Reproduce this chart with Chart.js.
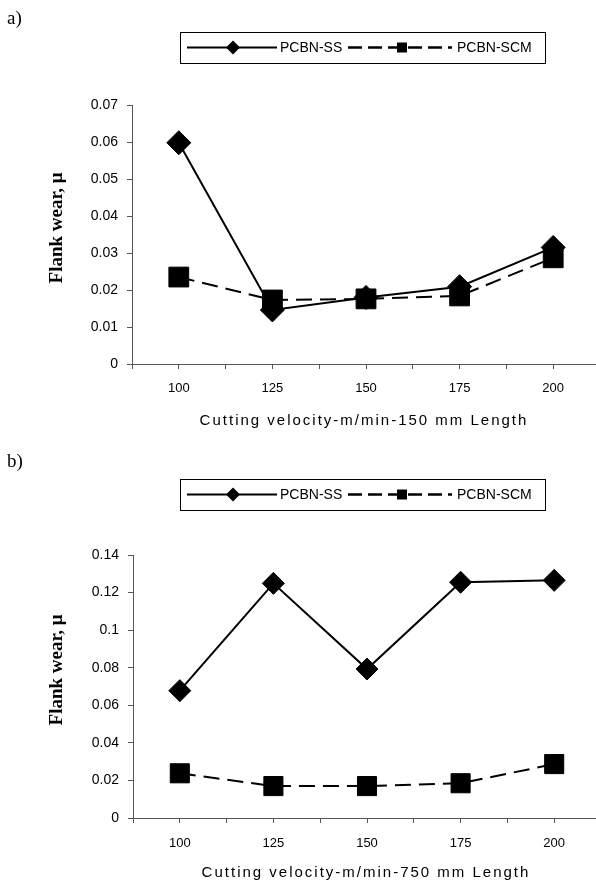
<!DOCTYPE html>
<html><head><meta charset="utf-8">
<script src="https://cdn.jsdelivr.net/npm/chart.js@4.4.0/dist/chart.umd.min.js"></script>
<style>
html,body{margin:0;padding:0;background:#fff;overflow:hidden;width:596px;height:885px;}
.box{position:absolute;left:0;width:620px;}
canvas{display:block;}
</style></head><body>
<div class="box" style="top:0;height:440px"><canvas id="ca" width="620" height="440"></canvas></div>
<div class="box" style="top:440px;height:445px"><canvas id="cb" width="620" height="445"></canvas></div>
<script>
// ---- data ----
const velocities = [100, 125, 150, 175, 200];
const ssA  = [0.0598, 0.0146, 0.0180, 0.0209, 0.0315];
const scmA = [0.0235, 0.0173, 0.0176, 0.0184, 0.0287];
const ssB  = [0.0678, 0.1249, 0.0793, 0.1255, 0.1265];
const scmB = [0.0238, 0.0170, 0.0170, 0.0185, 0.0287];
const seriesNames = ['PCBN-SS', 'PCBN-SCM'];
const panelLabels = ['a)', 'b)'];
const xTitles = ['Cutting velocity-m/min-150 mm Length', 'Cutting velocity-m/min-750 mm Length'];
const yTitle = 'Flank wear, \u03BC';
const yMaxes = [0.07, 0.14];
const ySteps = [0.01, 0.02];

const SANS = "'Liberation Sans', Arial, sans-serif";
const SERIF = "'Liberation Serif', 'Times New Roman', serif";
const AXIS = '#555';

function pts(vals) { return velocities.map((v, i) => ({x: v, y: vals[i]})); }

function drawMarker(ctx, style, x, y, r) {
  ctx.beginPath();
  if (style === 'rectRot') {
    ctx.moveTo(x - r, y); ctx.lineTo(x, y - r); ctx.lineTo(x + r, y); ctx.lineTo(x, y + r);
  } else {
    ctx.rect(x - r, y - r, 2 * r, 2 * r);
  }
  ctx.closePath(); ctx.fill();
}

function decor(cfg) {
  return {
    id: 'decor',
    afterDraw(chart) {
      const ctx = chart.ctx;
      const ds = chart.data.datasets;
      ctx.save();
      ctx.fillStyle = '#000';
      ctx.font = '19px ' + SERIF;
      ctx.textBaseline = 'top'; ctx.textAlign = 'left';
      ctx.fillText(cfg.panel, 7, cfg.panelTop);
      const lt = cfg.legendTop, lh = 31, my = lt + lh / 2;
      ctx.strokeStyle = '#000'; ctx.lineWidth = 1;
      ctx.strokeRect(180.5, lt + 0.5, 365, lh);
      ctx.font = '14px ' + SANS; ctx.textBaseline = 'middle';
      ctx.lineWidth = 2; ctx.setLineDash(ds[0].borderDash || []);
      ctx.beginPath(); ctx.moveTo(187, my); ctx.lineTo(277, my); ctx.stroke();
      drawMarker(ctx, ds[0].pointStyle, 233, my, 7);
      ctx.fillText(ds[0].label, 280, my + 1);
      ctx.lineWidth = 2.5;
      ctx.setLineDash([14, 6]);
      ctx.beginPath(); ctx.moveTo(348, my); ctx.lineTo(452, my); ctx.stroke();
      ctx.setLineDash([]);
      drawMarker(ctx, ds[1].pointStyle, 402, my, 5);
      ctx.fillText(ds[1].label, 457, my + 1);
      ctx.save();
      ctx.translate(57, cfg.yTitleY); ctx.rotate(-Math.PI / 2);
      ctx.font = 'bold 19px ' + SERIF; ctx.textAlign = 'center'; ctx.textBaseline = 'middle';
      ctx.fillText(yTitle, 0, 0);
      ctx.restore();
      ctx.font = '15px ' + SANS; ctx.textAlign = 'center'; ctx.textBaseline = 'middle';
      try { ctx.letterSpacing = '2px'; } catch (e) {}
      ctx.fillText(cfg.xTitle, cfg.xTitleX, cfg.xTitleY);
      try { ctx.letterSpacing = '0px'; } catch (e) {}
      ctx.restore();
    }
  };
}

function makeChart(id, ss, scm, idx, o) {
  return new Chart(document.getElementById(id), {
    type: 'line',
    data: {
      datasets: [
        {label: seriesNames[0], data: pts(ss), borderColor: '#000', backgroundColor: '#000',
         borderWidth: 2, pointStyle: 'rectRot', pointRadius: o.dRad, pointBackgroundColor: '#000',
         pointBorderColor: '#000', pointBorderWidth: 1, tension: 0, order: 1},
        {label: seriesNames[1], data: pts(scm), borderColor: '#000', backgroundColor: '#000',
         borderWidth: 2, borderDash: [16, 8], pointStyle: 'rect', pointRadius: o.sRad, pointBackgroundColor: '#000',
         pointBorderColor: '#000', pointBorderWidth: 1, tension: 0, order: 0}
      ]
    },
    options: {
      responsive: false, animation: false, devicePixelRatio: 1,
      layout: {padding: {top: o.top, right: o.right, bottom: 0, left: 0}},
      plugins: {legend: {display: false}, tooltip: {enabled: false}},
      scales: {
        x: {type: 'linear', min: 87.5, max: 212.5,
          ticks: {stepSize: 12.5, autoSkip: false, maxRotation: 0, padding: o.xPad, color: '#000',
            font: {family: SANS, size: 13},
            callback: (v) => velocities.includes(v) ? String(v) : ''},
          grid: {drawOnChartArea: false, tickLength: 5, color: AXIS, lineWidth: 1},
          border: {color: AXIS, width: 1},
          afterFit: (s) => { s.height = o.xH; }
        },
        y: {min: 0, max: yMaxes[idx],
          ticks: {stepSize: ySteps[idx], padding: 9, color: '#000', font: {family: SANS, size: 14},
            callback: (v) => String(+(+v).toFixed(2))},
          grid: {drawOnChartArea: false, tickLength: 5, color: AXIS, lineWidth: 1},
          border: {color: AXIS, width: 1},
          afterFit: (s) => { s.width = o.yW; }
        }
      }
    },
    plugins: [decor({panel: panelLabels[idx], panelTop: o.panelTop, legendTop: o.legendTop,
      yTitleY: o.yTitleY, xTitle: xTitles[idx], xTitleX: o.xTitleX, xTitleY: o.xTitleY})]
  });
}

makeChart('ca', ssA, scmA, 0, {top: 105, right: 20, xH: 76, yW: 132, dRad: 12, sRad: 14, xPad: 12,
  panelTop: 10, legendTop: 32, yTitleY: 228, xTitleX: 364, xTitleY: 421});
makeChart('cb', ssB, scmB, 1, {top: 115, right: 19, xH: 67, yW: 133, dRad: 11, sRad: 13.5, xPad: 13,
  panelTop: 13, legendTop: 39, yTitleY: 230, xTitleX: 366, xTitleY: 433});
</script>
</body></html>
